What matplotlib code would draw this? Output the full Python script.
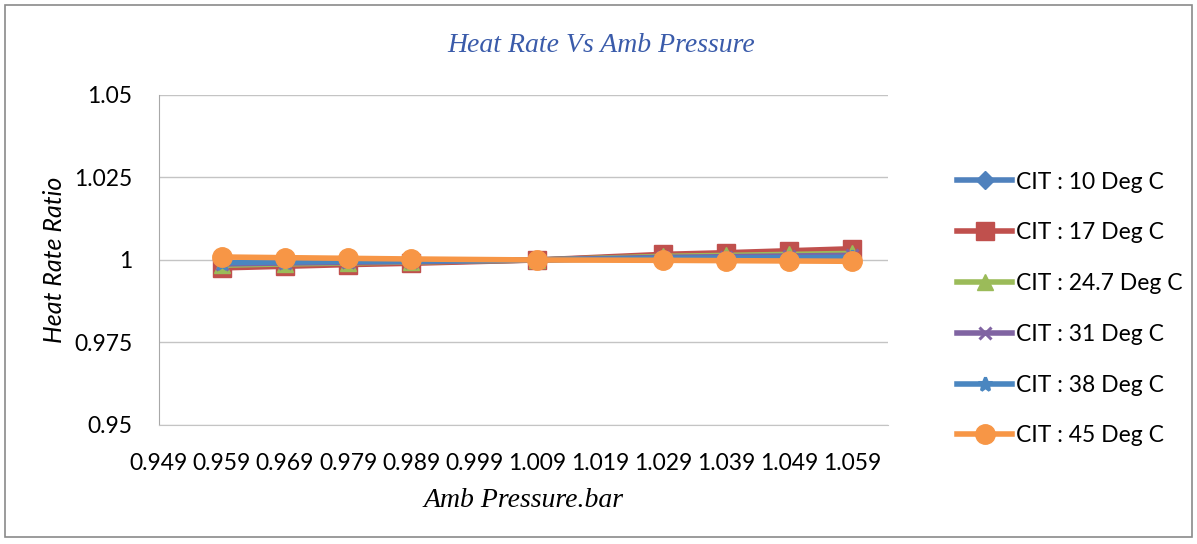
import matplotlib
matplotlib.use("Agg")
import matplotlib.pyplot as plt
from matplotlib.patches import Rectangle

# Ambient pressure (bar) and heat-rate ratio per compressor inlet temperature
pressure = [0.959, 0.969, 0.979, 0.989, 1.009, 1.029, 1.039, 1.049, 1.059]
hr_10 = [0.9980, 0.9985, 0.9989, 0.9993, 1.0000, 1.0013, 1.0018, 1.0022, 1.0026]
hr_17 = [0.9976, 0.9981, 0.9986, 0.9990, 1.0000, 1.0017, 1.0022, 1.0028, 1.0034]
hr_24_7 = [0.9984, 0.9988, 0.9991, 0.9994, 1.0000, 1.0011, 1.0014, 1.0017, 1.0020]
hr_31 = [0.9988, 0.9991, 0.9993, 0.9995, 1.0000, 1.0008, 1.0010, 1.0012, 1.0014]
hr_38 = [0.9992, 0.9994, 0.9996, 0.9997, 1.0000, 1.0005, 1.0006, 1.0007, 1.0008]
hr_45 = [1.0009, 1.0007, 1.0005, 1.0003, 1.0000, 0.9999, 0.9998, 0.9997, 0.9996]

series_labels = ["CIT : 10 Deg C", "CIT : 17 Deg C", "CIT : 24.7 Deg C",
                 "CIT : 31 Deg C", "CIT : 38 Deg C", "CIT : 45 Deg C"]
x_ticks = [0.949, 0.959, 0.969, 0.979, 0.989, 0.999, 1.009, 1.019, 1.029, 1.039, 1.049, 1.059]
y_ticks = [0.95, 0.975, 1.0, 1.025, 1.05]
y_tick_labels = ["0.95", "0.975", "1", "1.025", "1.05"]

series = [hr_10, hr_17, hr_24_7, hr_31, hr_38, hr_45]
colors = ["#4F81BD", "#C0504D", "#9BBB59", "#8064A2", "#4A86C0", "#F79646"]
markers = ["D", "s", "^", "x", "*", "o"]
msizes = [9, 13, 11, 9, 10, 14]

sans = ["Lato", "DejaVu Sans"]
serif = ["Liberation Serif", "DejaVu Serif"]

fig = plt.figure(figsize=(11.97, 5.44), dpi=100)
fig.patches.append(Rectangle((0.004, 0.012), 0.992, 0.978, transform=fig.transFigure,
                             fill=False, edgecolor="#8a8a8a", linewidth=1.2))

ax = fig.add_axes([0.1328, 0.2188, 0.6091, 0.6066])

handles = []
for ys, c, m, ms, lab in zip(series, colors, markers, msizes, series_labels):
    mew = 2.2 if m in ("x", "*") else 1.0
    h, = ax.plot(pressure, ys, color=c, linewidth=4, marker=m, markersize=ms,
                 markerfacecolor=c, markeredgecolor=c, markeredgewidth=mew,
                 label=lab, zorder=3)
    handles.append(h)

ax.set_xlim(0.949, 1.0647)
ax.set_ylim(0.95, 1.05)
ax.set_xticks(x_ticks)
ax.set_xticklabels([f"{v:.3f}" for v in x_ticks], fontfamily=sans, fontsize=16.5)
ax.set_yticks(y_ticks)
ax.set_yticklabels(y_tick_labels, fontfamily=sans, fontsize=16.5)
ax.tick_params(axis="both", length=0)
ax.tick_params(axis="y", pad=19)
ax.tick_params(axis="x", pad=20)

ax.grid(axis="y", color="#c4c4c4", linewidth=1.0)
ax.set_axisbelow(True)
for side in ("top", "right"):
    ax.spines[side].set_visible(False)
ax.spines["left"].set_color("#a8a8a8")
ax.spines["bottom"].set_color("#c4c4c4")

ax.set_ylabel("Heat Rate Ratio", fontfamily=sans, fontstyle="italic", fontsize=18, labelpad=6)
ax.set_xlabel("Amb Pressure.bar", fontfamily=serif, fontstyle="italic", fontsize=20, labelpad=10)

fig.text(0.502, 0.916, "Heat Rate Vs Amb Pressure", fontfamily=serif, fontstyle="italic",
         fontsize=20, color="#3A5BAA", ha="center", va="center")

fig.legend(handles=handles, loc="center left", bbox_to_anchor=(0.792, 0.432),
           frameon=False, prop={"family": sans, "size": 16.5}, handlelength=2.4,
           handletextpad=0.15, labelspacing=1.3, borderaxespad=0)

fig.savefig("out.png", dpi=100)
